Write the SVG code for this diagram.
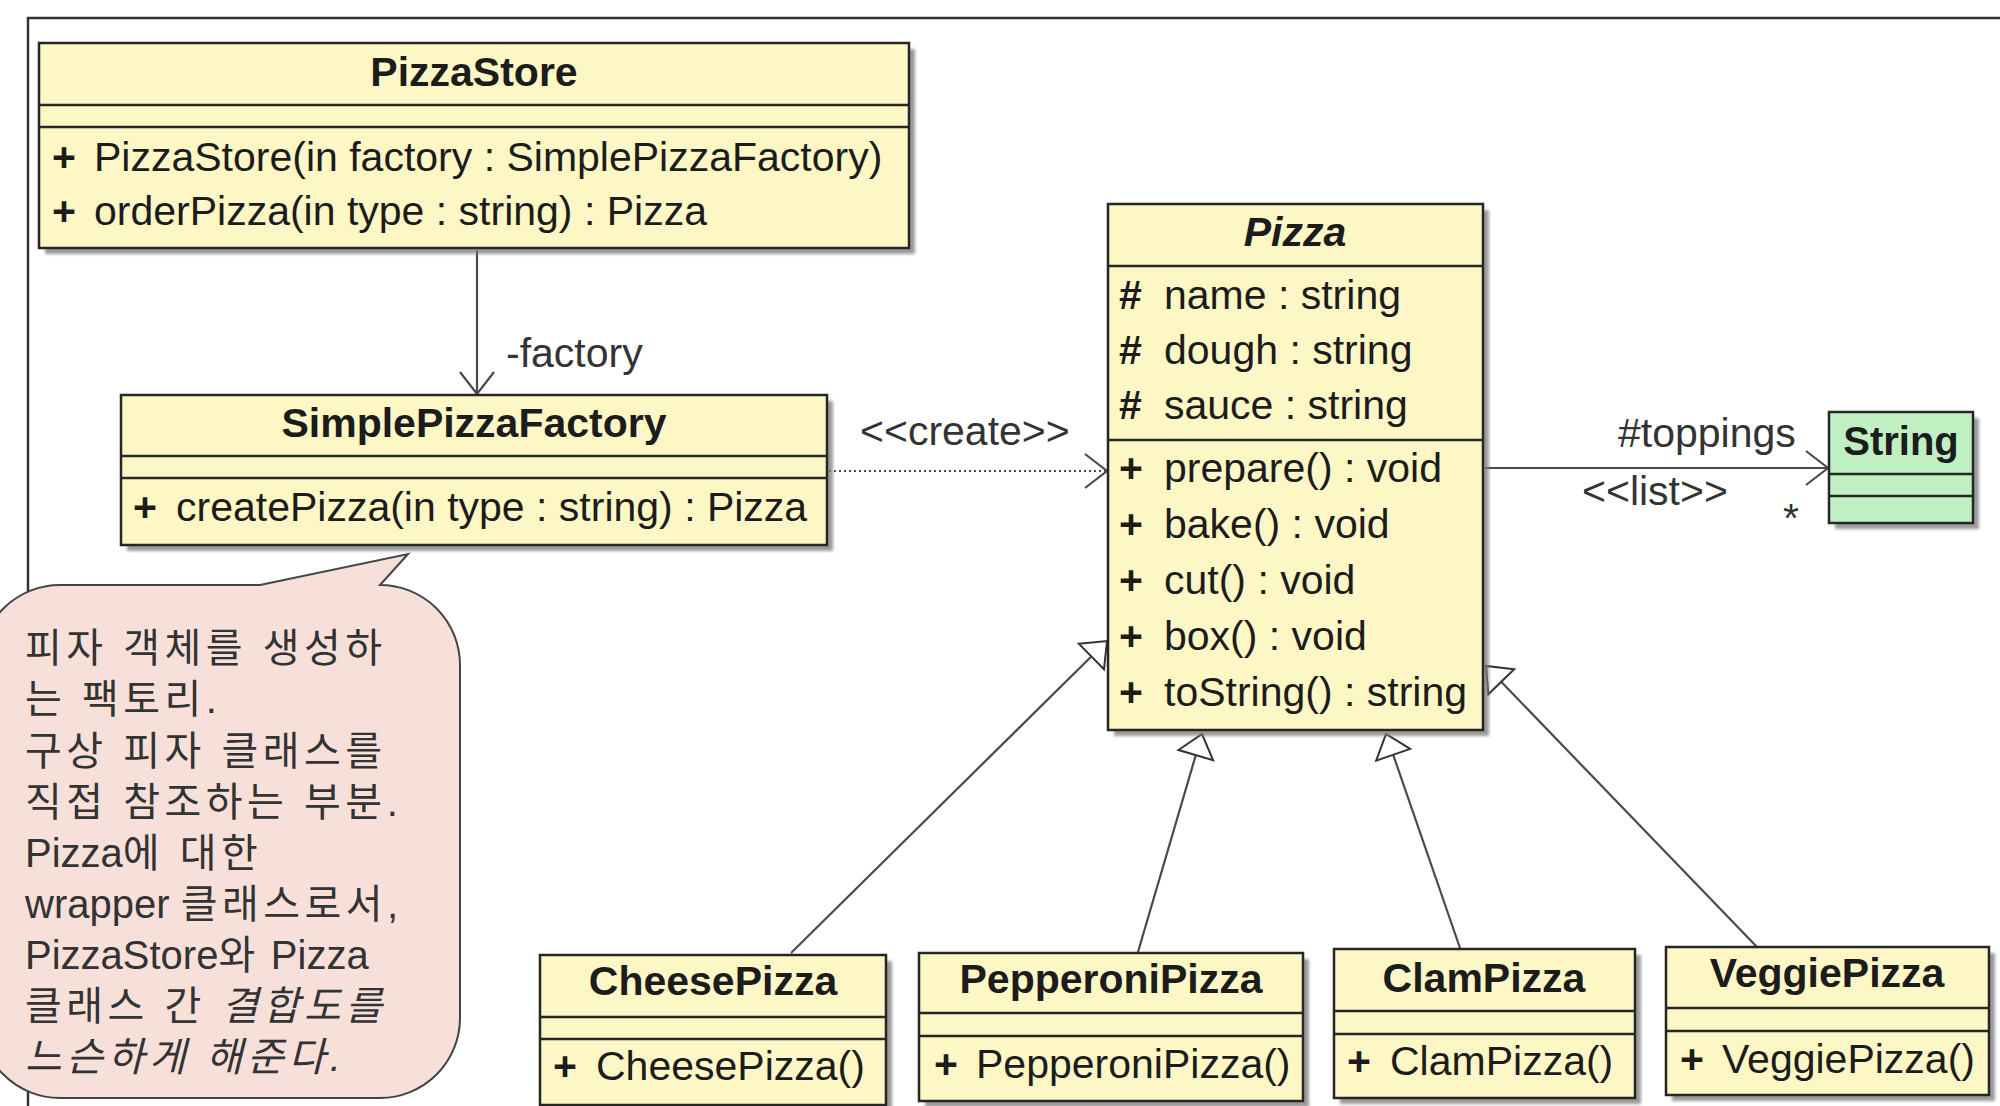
<svg xmlns="http://www.w3.org/2000/svg" width="2000" height="1106" viewBox="0 0 2000 1106">
<style>
.box{fill:#fcf7c4;stroke:#262626;stroke-width:2.5}
.green{fill:#c0f0c2}
.sh{fill:#7a7a7a;opacity:.75}
.dv{stroke:#262626;stroke-width:2.5}
.t{font-family:"Liberation Sans",Arial,sans-serif;font-size:41px;fill:#1c1c1c}
.b{font-weight:bold}
.i{font-style:italic}
.c{text-anchor:middle}
.lbl{fill:#333}
.conn{stroke:#4a4a4a;stroke-width:2.2;fill:none}
.dot{stroke-dasharray:2 3}
.note{fill:#f8e0da;stroke:#444;stroke-width:2}
.k{font-family:"Liberation Sans",Arial,"Noto Sans CJK KR",sans-serif;font-size:40px;fill:#333}
.ks{letter-spacing:4.5px}
</style>
<defs>
<filter id="blur" x="-5%" y="-5%" width="110%" height="110%"><feGaussianBlur stdDeviation="1.5"/></filter>
<marker id="open" markerUnits="userSpaceOnUse" viewBox="0 0 30 40" markerWidth="30" markerHeight="40" refX="24" refY="20" orient="auto"><path d="M2,3 L24,20 L2,37" fill="none" stroke="#4a4a4a" stroke-width="2.2"/></marker>
<marker id="tri" markerUnits="userSpaceOnUse" viewBox="0 0 30 40" markerWidth="30" markerHeight="40" refX="24" refY="20" orient="auto"><path d="M2,2 L24,20 L2,38 Z" fill="#fff" stroke="#333" stroke-width="2"/></marker>
</defs>
<rect width="2000" height="1106" fill="#fff"/>
<path d="M28,1106 L28,18 L2000,18" fill="none" stroke="#333" stroke-width="2.5"/>

<g id="connectors">
<path class="conn" d="M477,250 L477,394" marker-end="url(#open)"/>
<path class="conn dot" d="M829,471 L1107,471" marker-end="url(#open)"/>
<path class="conn" d="M1485,468 L1828,468" marker-end="url(#open)"/>
<path class="conn" d="M791,953 L1107,641" marker-end="url(#tri)"/>
<path class="conn" d="M1138,952 L1202,734" marker-end="url(#tri)"/>
<path class="conn" d="M1460,948 L1386,734" marker-end="url(#tri)"/>
<path class="conn" d="M1757,947 L1486,666" marker-end="url(#tri)"/>
<text class="t lbl" x="506" y="367">-factory</text>
<text class="t lbl" x="860" y="445">&lt;&lt;create&gt;&gt;</text>
<text class="t lbl" x="1618" y="447">#toppings</text>
<text class="t lbl" x="1582" y="505">&lt;&lt;list&gt;&gt;</text>
<text class="t lbl" x="1783" y="532">*</text>
</g>

<g id="PizzaStore">
<rect class="sh" x="45" y="49" width="870" height="205" filter="url(#blur)"/>
<rect class="box" x="39" y="43" width="870" height="205"/>
<line class="dv" x1="39" y1="105" x2="909" y2="105"/>
<line class="dv" x1="39" y1="127" x2="909" y2="127"/>
<text class="t b c" x="474" y="86">PizzaStore</text>
<text class="t b" x="52" y="171">+</text>
<text class="t" x="94" y="171">PizzaStore(in factory : SimplePizzaFactory)</text>
<text class="t b" x="52" y="225">+</text>
<text class="t" x="94" y="225">orderPizza(in type : string) : Pizza</text>
</g>

<g id="SimplePizzaFactory">
<rect class="sh" x="127" y="401" width="706" height="150" filter="url(#blur)"/>
<rect class="box" x="121" y="395" width="706" height="150"/>
<line class="dv" x1="121" y1="456" x2="827" y2="456"/>
<line class="dv" x1="121" y1="478" x2="827" y2="478"/>
<text class="t b c" x="474" y="437">SimplePizzaFactory</text>
<text class="t b" x="133" y="521">+</text>
<text class="t" x="176" y="521">createPizza(in type : string) : Pizza</text>
</g>

<g id="Pizza">
<rect class="sh" x="1114" y="210" width="375" height="526" filter="url(#blur)"/>
<rect class="box" x="1108" y="204" width="375" height="526"/>
<line class="dv" x1="1108" y1="266" x2="1483" y2="266"/>
<line class="dv" x1="1108" y1="440" x2="1483" y2="440"/>
<text class="t b i c" x="1295" y="246">Pizza</text>
<text class="t b" x="1119" y="309">#</text><text class="t" x="1164" y="309">name : string</text>
<text class="t b" x="1119" y="364">#</text><text class="t" x="1164" y="364">dough : string</text>
<text class="t b" x="1119" y="419">#</text><text class="t" x="1164" y="419">sauce : string</text>
<text class="t b" x="1119" y="482">+</text><text class="t" x="1164" y="482">prepare() : void</text>
<text class="t b" x="1119" y="538">+</text><text class="t" x="1164" y="538">bake() : void</text>
<text class="t b" x="1119" y="594">+</text><text class="t" x="1164" y="594">cut() : void</text>
<text class="t b" x="1119" y="650">+</text><text class="t" x="1164" y="650">box() : void</text>
<text class="t b" x="1119" y="706">+</text><text class="t" x="1164" y="706">toString() : string</text>
</g>

<g id="String">
<rect class="sh" x="1835" y="418" width="144" height="111" filter="url(#blur)"/>
<rect class="box green" x="1829" y="412" width="144" height="111"/>
<line class="dv" x1="1829" y1="474" x2="1973" y2="474"/>
<line class="dv" x1="1829" y1="496" x2="1973" y2="496"/>
<text class="t b c" x="1901" y="455" style="font-size:40px">String</text>
</g>

<g id="CheesePizza">
<rect class="sh" x="546" y="961" width="346" height="150" filter="url(#blur)"/>
<rect class="box" x="540" y="955" width="346" height="150"/>
<line class="dv" x1="540" y1="1017" x2="886" y2="1017"/>
<line class="dv" x1="540" y1="1039" x2="886" y2="1039"/>
<text class="t b c" x="713" y="995">CheesePizza</text>
<text class="t b" x="553" y="1080">+</text>
<text class="t" x="596" y="1080">CheesePizza()</text>
</g>

<g id="PepperoniPizza">
<rect class="sh" x="925" y="959" width="384" height="148" filter="url(#blur)"/>
<rect class="box" x="919" y="953" width="384" height="148"/>
<line class="dv" x1="919" y1="1013" x2="1303" y2="1013"/>
<line class="dv" x1="919" y1="1036" x2="1303" y2="1036"/>
<text class="t b c" x="1111" y="993">PepperoniPizza</text>
<text class="t b" x="934" y="1078">+</text>
<text class="t" x="976" y="1078">PepperoniPizza()</text>
</g>

<g id="ClamPizza">
<rect class="sh" x="1340" y="955" width="301" height="149" filter="url(#blur)"/>
<rect class="box" x="1334" y="949" width="301" height="149"/>
<line class="dv" x1="1334" y1="1011" x2="1635" y2="1011"/>
<line class="dv" x1="1334" y1="1034" x2="1635" y2="1034"/>
<text class="t b c" x="1484" y="992">ClamPizza</text>
<text class="t b" x="1347" y="1075">+</text>
<text class="t" x="1390" y="1075">ClamPizza()</text>
</g>

<g id="VeggiePizza">
<rect class="sh" x="1672" y="953" width="323" height="148" filter="url(#blur)"/>
<rect class="box" x="1666" y="947" width="323" height="148"/>
<line class="dv" x1="1666" y1="1008" x2="1989" y2="1008"/>
<line class="dv" x1="1666" y1="1031" x2="1989" y2="1031"/>
<text class="t b c" x="1827" y="987">VeggiePizza</text>
<text class="t b" x="1680" y="1073">+</text>
<text class="t" x="1722" y="1073">VeggiePizza()</text>
</g>

<g id="note">
<path class="note" d="M60,585 L260,585 L408,554 L380,585 A80,80 0 0 1 460,665 L460,1018 A80,80 0 0 1 380,1098 L60,1098 A80,80 0 0 1 -20,1018 L-20,665 A80,80 0 0 1 60,585 Z"/>
<text class="k ks" x="25" y="662">피자 객체를 생성하</text>
<text class="k ks" x="25" y="713">는 팩토리.</text>
<text class="k ks" x="25" y="765">구상 피자 클래스를</text>
<text class="k ks" x="25" y="816">직접 참조하는 부분.</text>
<text class="k" x="25" y="867">Pizza<tspan class="ks">에 대한</tspan></text>
<text class="k" x="25" y="918">wrapper <tspan class="ks">클래스로서,</tspan></text>
<text class="k" x="25" y="969">PizzaStore<tspan class="ks">와</tspan> Pizza</text>
<text class="k ks" x="25" y="1020">클래스 간 <tspan class="i">결합도를</tspan></text>
<text class="k ks i" x="25" y="1071">느슨하게 해준다.</text>
</g>
</svg>
